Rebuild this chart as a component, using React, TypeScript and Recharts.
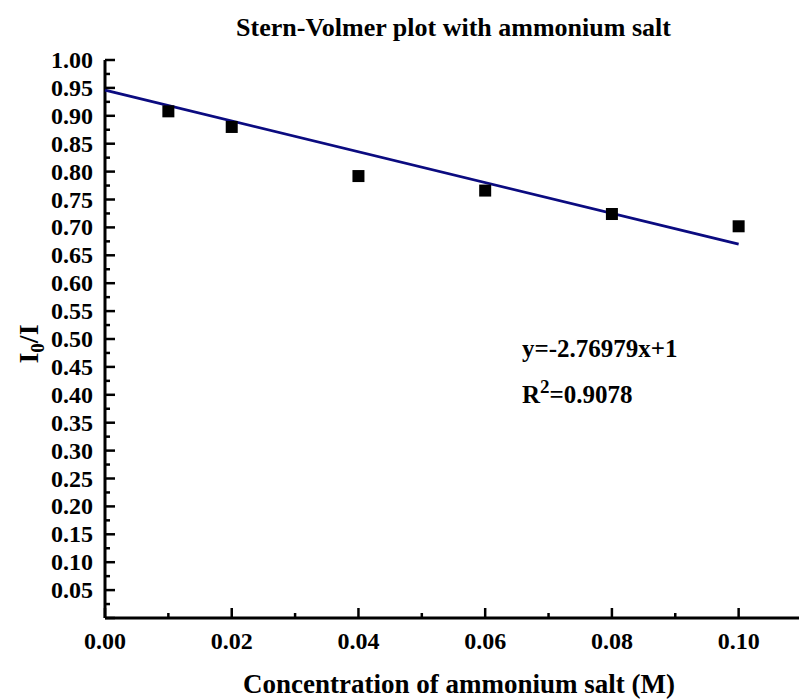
import { ScatterChart, Scatter, XAxis, YAxis } from 'recharts'

const concentration = [0.01, 0.02, 0.04, 0.06, 0.08, 0.1]
const ratio = [0.908, 0.88, 0.792, 0.766, 0.724, 0.702]

const fitX = [0, 0.1]
const fitY = [0.946, 0.67]

const xTicks = [0, 0.01, 0.02, 0.03, 0.04, 0.05, 0.06, 0.07, 0.08, 0.09, 0.1]
const yTicks = [
  0, 0.025, 0.05, 0.075, 0.1, 0.125, 0.15, 0.175, 0.2, 0.225, 0.25, 0.275, 0.3, 0.325, 0.35,
  0.375, 0.4, 0.425, 0.45, 0.475, 0.5, 0.525, 0.55, 0.575, 0.6, 0.625, 0.65, 0.675, 0.7, 0.725,
  0.75, 0.775, 0.8, 0.825, 0.85, 0.875, 0.9, 0.925, 0.95, 0.975, 1.0,
]

const points = concentration.map((x, i) => ({ x, y: ratio[i] }))
const fitLine = fitX.map((x, i) => ({ x, y: fitY[i] }))

const FONT = "'Liberation Serif', 'Times New Roman', serif"

const isMajor = (v: number, step: number) => Math.abs(Math.round(v / step) * step - v) < 1e-6

function YTick(props: any) {
  const { x, y, payload } = props
  const v = payload.value as number
  const major = isMajor(v, 0.05)
  return (
    <g>
      <line x1={x} y1={y} x2={x + (major ? 10 : 5)} y2={y} stroke="#000" strokeWidth={2.5} />
      {major && v > 0 && (
        <text x={x - 12} y={y} dy={8} textAnchor="end" fontFamily={FONT} fontWeight="bold" fontSize={24} fill="#000">
          {v.toFixed(2)}
        </text>
      )}
    </g>
  )
}

function XTick(props: any) {
  const { x, y, payload } = props
  const v = payload.value as number
  const major = isMajor(v, 0.02)
  return (
    <g>
      <line x1={x} y1={y} x2={x} y2={y - (major ? 10 : 5)} stroke="#000" strokeWidth={2.5} />
      {major && (
        <text x={x} y={y + 31} textAnchor="middle" fontFamily={FONT} fontWeight="bold" fontSize={24} fill="#000">
          {v.toFixed(2)}
        </text>
      )}
    </g>
  )
}

const SquareDot = (p: any) => <rect x={p.cx - 6} y={p.cy - 6} width={12} height={12} fill="#000" />

const textStyle = { fontFamily: FONT, fontWeight: 'bold' as const, fill: '#000' }

export default function App() {
  return (
    <div style={{ position: 'absolute', left: 0, top: 0, width: 799, height: 700, overflow: 'hidden', background: '#fff' }}>
      <ScatterChart width={802} height={700} margin={{ top: 60, right: 0, bottom: 0, left: 0 }}>
        <XAxis
          type="number"
          dataKey="x"
          domain={[0, 0.11]}
          ticks={xTicks}
          interval={0}
          height={82}
          tickLine={false}
          tickSize={0}
          tickMargin={0}
          axisLine={{ stroke: '#000', strokeWidth: 3 }}
          tick={<XTick />}
        />
        <YAxis
          type="number"
          dataKey="y"
          domain={[0, 1]}
          ticks={yTicks}
          interval={0}
          width={105}
          tickLine={false}
          tickSize={0}
          tickMargin={0}
          axisLine={{ stroke: '#000', strokeWidth: 3 }}
          tick={<YTick />}
        />
        <Scatter
          data={fitLine}
          line={{ stroke: '#0b0b80', strokeWidth: 2.8 }}
          shape={() => <g />}
          isAnimationActive={false}
        />
        <Scatter data={points} fill="#000" shape={SquareDot} isAnimationActive={false} />
      </ScatterChart>
      <svg width={799} height={700} style={{ position: 'absolute', left: 0, top: 0, pointerEvents: 'none' }}>
        <text x={453.5} y={36} textAnchor="middle" fontSize={26} {...textStyle}>
          Stern-Volmer plot with ammonium salt
        </text>
        <text x={459} y={693} textAnchor="middle" fontSize={27} {...textStyle}>
          Concentration of ammonium salt (M)
        </text>
        <text x={38} y={344} transform="rotate(-90, 38, 344)" textAnchor="middle" fontSize={28} {...textStyle}>
          I<tspan fontSize={19} dy={6}>0</tspan>
          <tspan dy={-6}>/I</tspan>
        </text>
        <text x={522} y={357} fontSize={25} {...textStyle}>
          y=-2.76979x+1
        </text>
        <text x={522} y={403} fontSize={25} {...textStyle}>
          R<tspan fontSize={19} dy={-10}>2</tspan>
          <tspan dy={10}>=0.9078</tspan>
        </text>
      </svg>
    </div>
  )
}
